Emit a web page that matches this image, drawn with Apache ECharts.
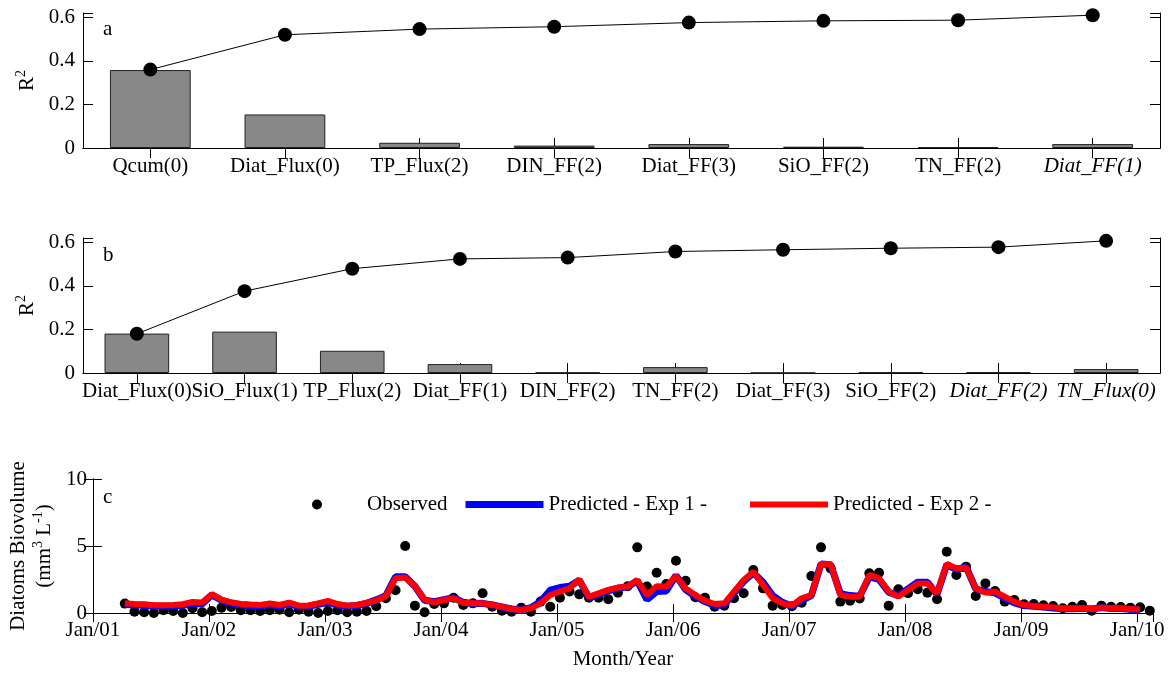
<!DOCTYPE html>
<html>
<head>
<meta charset="utf-8">
<script src="https://cdn.jsdelivr.net/npm/echarts@6/dist/echarts.min.js"></script>
<style>
html,body{margin:0;padding:0;background:#fff;}
#chart{width:1169px;height:673px;}
</style>
</head>
<body>
<div id="chart"></div>
<script>
// ---------- DATA ----------
const catsA = ['Qcum(0)','Diat_Flux(0)','TP_Flux(2)','DIN_FF(2)','Diat_FF(3)','SiO_FF(2)','TN_FF(2)','Diat_FF(1)'];
const barsA = [0.358, 0.154, 0.024, 0.011, 0.018, 0.006, 0.004, 0.018];
const cumA  = [0.360, 0.520, 0.546, 0.557, 0.576, 0.584, 0.587, 0.610];

const catsB = ['Diat_Flux(0)','SiO_Flux(1)','TP_Flux(2)','Diat_FF(1)','DIN_FF(2)','TN_FF(2)','Diat_FF(3)','SiO_FF(2)','Diat_FF(2)','TN_Flux(0)'];
const barsB = [0.181, 0.190, 0.102, 0.041, 0.002, 0.027, 0.001, 0.003, 0.004, 0.018];
const cumB  = [0.180, 0.376, 0.479, 0.524, 0.530, 0.558, 0.566, 0.573, 0.578, 0.607];

const italicLabels = ['Diat_FF(1)#a', 'Diat_FF(2)#b', 'TN_Flux(0)#b'];

const r2Ticks = [0, 0.2, 0.4, 0.6];
const yearLabels = ['Jan/01','Jan/02','Jan/03','Jan/04','Jan/05','Jan/06','Jan/07','Jan/08','Jan/09','Jan/10'];

// monthly series, sampled around the 10th of each month
const obsStart = '2001-04-10';
const observed = [
  0.7, 0.1, 0.05, 0.0, 0.2, 0.15, 0.0, 0.35, 0.05,
  0.15, 0.4, 0.45, 0.2, 0.2, 0.15, 0.2, 0.25, 0.05, 0.25, 0.1, 0.0,
  0.15, 0.2, 0.05, 0.1, 0.15, 0.5, 1.1, 1.7, 5.0, 0.55, 0.05, 0.67,
  0.72, 1.14, 0.6, 0.72, 1.47, 0.47, 0.17, 0.1, 0.4, 0.1, 0.85, 0.47,
  1.14, 1.6, 1.39, 1.14, 1.14, 1.02, 1.52, 2.0, 4.9, 1.97, 3.0, 2.16,
  3.9, 2.4, 1.17, 1.14, 0.47, 0.55, 1.1, 1.47, 3.2, 1.84, 0.55, 0.6,
  0.5, 0.77, 2.76, 4.9, 3.33, 0.85, 0.92, 1.09, 2.96, 3.0, 0.55, 1.77,
  1.47, 1.77, 1.52, 1.02, 4.58, 2.84, 3.46, 1.27, 2.21, 1.64, 0.85, 0.97,
  0.65, 0.67, 0.57, 0.52, 0.35, 0.47, 0.6, 0.17, 0.55, 0.47, 0.45, 0.4,
  0.42, 0.17
];
const predStart = '2001-04-10';
const predExp1 = [
  0.65, 0.6, 0.58, 0.52, 0.5, 0.53, 0.58, 0.72, 0.68,
  1.35, 0.95, 0.72, 0.62, 0.56, 0.53, 0.63, 0.52, 0.7, 0.48, 0.5, 0.65,
  0.8, 0.6, 0.5, 0.56, 0.72, 0.98, 1.3, 2.7, 2.7, 2.0, 0.95, 0.85,
  1.0, 1.15, 0.8, 0.7, 0.72, 0.6, 0.45, 0.3, 0.22, 0.4, 0.85, 1.7,
  1.9, 2.0, 2.45, 1.15, 1.4, 1.65, 1.85, 1.95, 2.4, 1.0, 1.6, 1.65,
  2.8, 1.75, 1.25, 0.85, 0.55, 0.62, 1.5, 2.35, 3.0, 2.3, 1.3, 0.8,
  0.5, 0.95, 1.3, 3.65, 3.6, 1.45, 1.3, 1.25, 2.7, 2.5, 1.55, 1.3,
  1.8, 2.3, 2.3, 1.4, 3.6, 3.25, 3.45, 1.8, 1.6, 1.5, 1.1, 0.75,
  0.55, 0.5, 0.45, 0.38, 0.32, 0.32, 0.35, 0.3, 0.4, 0.33, 0.33, 0.28,
  0.25
];
const predExp2 = [
  0.72, 0.67, 0.65, 0.58, 0.57, 0.6, 0.65, 0.82, 0.78,
  1.4, 1.0, 0.8, 0.68, 0.63, 0.6, 0.72, 0.6, 0.77, 0.55, 0.56, 0.72,
  0.9, 0.67, 0.55, 0.6, 0.75, 0.95, 1.25, 2.6, 2.65, 2.0, 1.0, 0.8,
  0.97, 1.1, 0.77, 0.72, 0.72, 0.6, 0.47, 0.3, 0.22, 0.35, 0.72, 1.34,
  1.6, 1.84, 2.5, 1.2, 1.47, 1.72, 1.9, 1.97, 2.46, 1.34, 2.0, 1.97,
  2.76, 1.84, 1.34, 0.92, 0.67, 0.72, 1.6, 2.46, 3.08, 2.1, 1.1, 0.72,
  0.55, 1.1, 1.34, 3.66, 3.66, 1.34, 1.22, 1.22, 2.84, 2.6, 1.6, 1.22,
  1.72, 2.21, 2.21, 1.47, 3.66, 3.33, 3.4, 1.84, 1.52, 1.6, 1.22, 0.85,
  0.6, 0.52, 0.47, 0.42, 0.35, 0.35, 0.35, 0.3, 0.42, 0.35, 0.35, 0.3,
  0.27
];
const axisStart = '2001-01-01';
const axisEnd = '2010-02-20';
const legendNames = ['Observed', 'Predicted - Exp 1 -', 'Predicted - Exp 2 -'];

// ---------- helpers ----------
function monthNum(dateStr) {
  const [y, m, d] = dateStr.split('-').map(Number);
  const [y0, m0] = axisStart.split('-').map(Number);
  return (y - y0) * 12 + (m - m0) + (d - 1) / 30;
}
function monthly(start, values) {
  const s = monthNum(start);
  return values.map((v, i) => [s + i, v]);
}

const FONT = 'Liberation Serif';
const FS = 21;
const black = '#000';

function catLabelFmt(panel) {
  return function (v) {
    return italicLabels.indexOf(v + '#' + panel) >= 0 ? '{i|' + v + '}' : v;
  };
}
function r2Fmt(v) {
  for (const t of r2Ticks) if (Math.abs(v - t) < 1e-9) return String(t);
  return '';
}
function yearFmt(v) {
  const k = v / 12;
  return Math.abs(k - Math.round(k)) < 1e-9 ? (yearLabels[Math.round(k)] || '') : '';
}

const grids = [
  { left: 83, right: 9, top: 13, height: 135 },
  { left: 83, right: 9, top: 238, height: 135 },
  { left: 83, right: 16, top: 479, height: 134 }
];

const lineAx = { show: true, lineStyle: { color: black, width: 1 } };
const tickIn = (len) => ({ show: true, inside: true, length: len, lineStyle: { color: black, width: 1 } });
const lblStyle = { fontFamily: FONT, fontSize: FS, color: black };
const richName = {
  t: { fontFamily: FONT, fontSize: FS, color: black, lineHeight: 26 },
  s: { fontFamily: FONT, fontSize: 14, color: black, verticalAlign: 'top', lineHeight: 14 }
};

function catX(gi, cats, panel, show) {
  return {
    type: 'category', gridIndex: gi, data: cats, boundaryGap: true,
    position: show ? 'bottom' : 'top',
    axisLine: lineAx, axisTick: Object.assign(tickIn(10), { alignWithLabel: true }),
    axisLabel: show ? Object.assign({}, lblStyle, { interval: 0, margin: 8, formatter: catLabelFmt(panel),
      rich: { i: { fontFamily: FONT, fontSize: FS, color: black, fontStyle: 'italic' } } }) : { show: false },
    splitLine: { show: false }
  };
}
function r2Y(gi, show) {
  return {
    type: 'value', gridIndex: gi, min: 0, max: 0.62, interval: 0.2,
    position: show ? 'left' : 'right',
    axisLine: lineAx, axisTick: tickIn(10),
    axisLabel: show ? Object.assign({}, lblStyle, { margin: 8, formatter: r2Fmt }) : { show: false },
    splitLine: { show: false },
    name: show ? '{t|R}{s|2}' : '', nameLocation: 'middle', nameGap: 40, nameRotate: 90,
    nameTextStyle: { rich: richName }
  };
}
function legendAt(left, idx, itemWidth, extra) {
  return Object.assign({
    left: left, top: 494, itemWidth: itemWidth, itemHeight: 10, itemGap: 0, padding: 0,
    textStyle: { fontFamily: FONT, fontSize: FS, color: black },
    selectedMode: false
  }, { data: [Object.assign({ name: legendNames[idx] }, extra || {})] });
}

const option = {
  animation: false,
  backgroundColor: '#fff',
  grid: grids,
  xAxis: [
    catX(0, catsA, 'a', true), catX(0, catsA, 'a', false),
    catX(1, catsB, 'b', true), catX(1, catsB, 'b', false),
    {
      type: 'value', gridIndex: 2, min: 0, max: monthNum(axisEnd), interval: 12, position: 'bottom',
      axisLine: lineAx, axisTick: tickIn(9),
      axisLabel: Object.assign({}, lblStyle, { margin: 7, formatter: yearFmt, showMaxLabel: false }),
      splitLine: { show: false },
      name: 'Month/Year', nameLocation: 'middle', nameGap: 36,
      nameTextStyle: { fontFamily: FONT, fontSize: FS, color: black }
    },
    {
      type: 'value', gridIndex: 2, min: 0, max: monthNum(axisEnd), interval: 12, position: 'top',
      axisLine: lineAx, axisTick: tickIn(9), axisLabel: { show: false }, splitLine: { show: false }
    }
  ],
  yAxis: [
    r2Y(0, true), r2Y(0, false), r2Y(1, true), r2Y(1, false),
    {
      type: 'value', gridIndex: 2, min: 0, max: 10, interval: 5, position: 'left',
      axisLine: lineAx, axisTick: tickIn(9),
      axisLabel: Object.assign({}, lblStyle, { margin: 6 }),
      splitLine: { show: false },
      name: '{t|Diatoms Biovolume}\n{t|(mm}{s|3}{t| L}{s|-1}{t|)}',
      nameLocation: 'middle', nameGap: 29, nameRotate: 90,
      nameTextStyle: { rich: richName, align: 'center' }
    },
    {
      type: 'value', gridIndex: 2, min: 0, max: 10, interval: 5, position: 'right',
      axisLine: lineAx, axisTick: tickIn(9), axisLabel: { show: false }, splitLine: { show: false }
    }
  ],
  legend: [
    legendAt(312, 0, 90),
    legendAt(462, 1, 78, { lineStyle: { width: 7 }, itemStyle: { opacity: 0 } }),
    legendAt(747, 2, 78, { lineStyle: { width: 6 }, itemStyle: { opacity: 0 } })
  ],
  graphic: [
    { type: 'text', left: 103, top: 19, style: { text: 'a', font: FS + 'px "' + FONT + '"', fill: black } },
    { type: 'text', left: 103, top: 245, style: { text: 'b', font: FS + 'px "' + FONT + '"', fill: black } },
    { type: 'text', left: 103, top: 487, style: { text: 'c', font: FS + 'px "' + FONT + '"', fill: black } }
  ],
  series: [
    { type: 'bar', xAxisIndex: 0, yAxisIndex: 0, data: barsA, barWidth: '60%',
      itemStyle: { color: '#888888', borderColor: '#222', borderWidth: 1 } },
    { type: 'line', xAxisIndex: 0, yAxisIndex: 0, data: cumA, symbol: 'circle', symbolSize: 14,
      itemStyle: { color: black }, lineStyle: { color: black, width: 1 } },
    { type: 'bar', xAxisIndex: 2, yAxisIndex: 2, data: barsB, barWidth: '60%',
      itemStyle: { color: '#888888', borderColor: '#222', borderWidth: 1 } },
    { type: 'line', xAxisIndex: 2, yAxisIndex: 2, data: cumB, symbol: 'circle', symbolSize: 14,
      itemStyle: { color: black }, lineStyle: { color: black, width: 1 } },
    { name: legendNames[0], type: 'scatter', xAxisIndex: 4, yAxisIndex: 4, data: monthly(obsStart, observed),
      symbol: 'circle', symbolSize: 10, itemStyle: { color: black, opacity: 1 } },
    { name: legendNames[1], type: 'line', xAxisIndex: 4, yAxisIndex: 4, data: monthly(predStart, predExp1),
      symbol: 'none', lineStyle: { color: '#0000ff', width: 7 }, itemStyle: { color: '#0000ff' } },
    { name: legendNames[2], type: 'line', xAxisIndex: 4, yAxisIndex: 4, data: monthly(predStart, predExp2),
      symbol: 'none', lineStyle: { color: '#ff0000', width: 6 }, itemStyle: { color: '#ff0000' } }
  ]
};

const chart = echarts.init(document.getElementById('chart'), null, { renderer: 'canvas' });
chart.setOption(option);
</script>
</body>
</html>
